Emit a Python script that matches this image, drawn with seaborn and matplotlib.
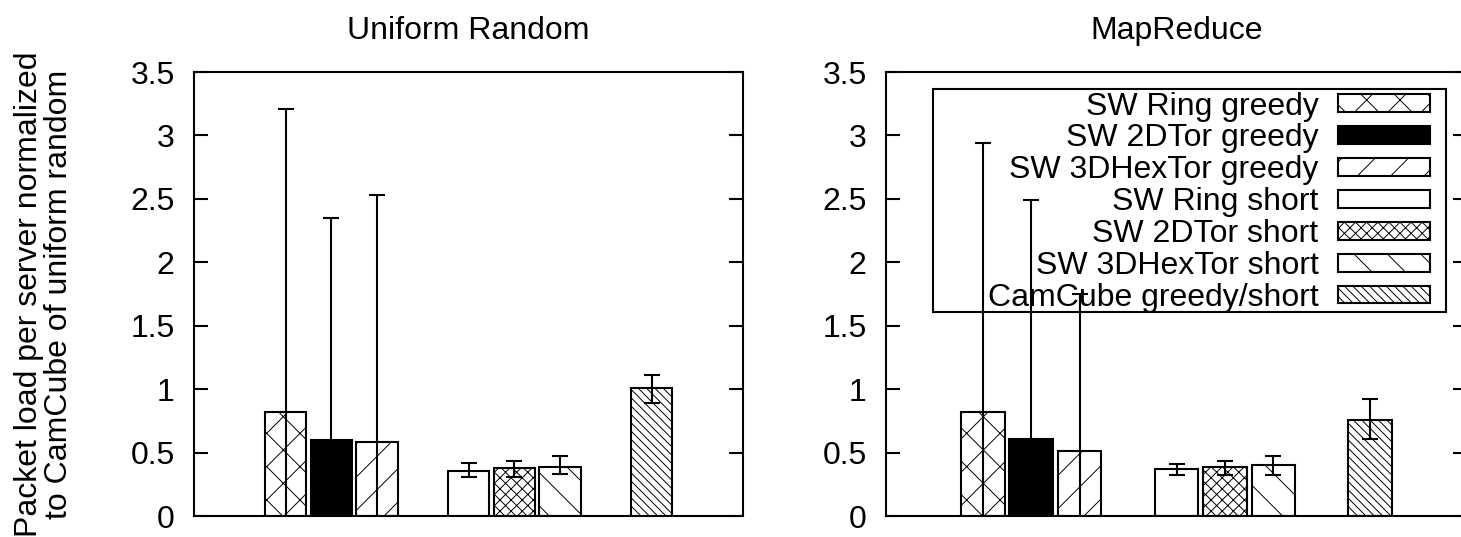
import matplotlib
matplotlib.use('Agg')
import matplotlib.pyplot as plt
import seaborn as sns
import pandas as pd
from matplotlib.container import BarContainer
from matplotlib.patches import Rectangle
from matplotlib.ticker import FuncFormatter

# values
methods = ['SW Ring greedy', 'SW 2DTor greedy', 'SW 3DHexTor greedy',
           'SW Ring short', 'SW 2DTor short', 'SW 3DHexTor short',
           'CamCube greedy/short']
uniform_mean = [0.82, 0.60, 0.58, 0.355, 0.375, 0.39, 1.01]
uniform_hi = [3.21, 2.35, 2.53, 0.415, 0.435, 0.47, 1.11]
uniform_lo = [-1.57, -1.15, -1.37, 0.31, 0.31, 0.33, 0.89]
mapreduce_mean = [0.82, 0.61, 0.51, 0.37, 0.385, 0.405, 0.755]
mapreduce_hi = [2.94, 2.49, 1.75, 0.41, 0.43, 0.47, 0.92]
mapreduce_lo = [-1.30, -1.27, -0.73, 0.32, 0.325, 0.32, 0.61]
titles = ['Uniform Random', 'MapReduce']

# gnuplot-style gaps between the three groups
slots = methods[:3] + [''] + methods[3:6] + [' '] + methods[6:]
face = {m: 'white' for m in methods}
face['SW 2DTor greedy'] = 'black'
hatches = ['x', '', '/', '', 'xxx', '\\', '\\\\\\\\']

sns.set_style('ticks')
plt.rcParams['font.family'] = ['Liberation Sans', 'DejaVu Sans']
plt.rcParams['text.color'] = 'black'
plt.rcParams['ytick.color'] = 'black'
plt.rcParams['hatch.linewidth'] = 0.7
FS = 23

fig = plt.figure(figsize=(14.61, 5.37), dpi=100)
ax1 = fig.add_axes([194 / 1461, 21 / 537, 549 / 1461, 444 / 537])
ax2 = fig.add_axes([886 / 1461, 21 / 537, 581 / 1461, 444 / 537])

panels = [(ax1, uniform_mean, uniform_lo, uniform_hi),
          (ax2, mapreduce_mean, mapreduce_lo, mapreduce_hi)]
bar_sets = {}

for (ax, mean, lo, hi), title in zip(panels, titles):
    df = pd.DataFrame({'method': methods, 'load': mean})
    sns.barplot(data=df, x='method', y='load', hue='method', order=slots,
                hue_order=methods, palette=face, dodge=False, width=0.9,
                edgecolor='black', linewidth=1.5, errorbar=None,
                legend=False, ax=ax)
    bars = [c for c in ax.containers if isinstance(c, BarContainer)]
    bar_sets[ax] = bars
    xs = []
    for cont, h in zip(bars, hatches):
        for bar in cont:
            bar.set_hatch(h)
            xs.append(bar.get_x() + bar.get_width() / 2)
    yerr = [[m - l for m, l in zip(mean, lo)], [u - m for m, u in zip(mean, hi)]]
    ax.errorbar(xs, mean, yerr=yerr, fmt='none', ecolor='black',
                elinewidth=1.5, capsize=5.5, capthick=1.5, zorder=4)

    ax.set_xlim(-2, 10)
    ax.set_ylim(0, 3.5)
    ax.set_yticks([0, 0.5, 1, 1.5, 2, 2.5, 3, 3.5])
    ax.yaxis.set_major_formatter(FuncFormatter(lambda v, p: f'{v:g}'))
    ax.set_xticks([])
    ax.set_xlabel('')
    ax.set_ylabel('')
    ax.tick_params(axis='y', direction='in', length=10, width=1.5,
                   left=True, right=True, labelsize=FS, pad=14,
                   labelcolor='black')
    for s in ax.spines.values():
        s.set_visible(True)
        s.set_linewidth(1.5)
        s.set_color('black')
    ax.set_title(title, fontsize=FS, pad=24, color='black')

fig.text(44 / 1461, 1 - 294 / 537,
         'Packet load per server normalized\nto CamCube of uniform random',
         rotation=90, ha='center', va='center', fontsize=FS,
         multialignment='center', linespacing=1.0)

# legend in gnuplot fashion: labels right aligned, samples on the right
handles = [cont.patches[0] for cont in bar_sets[ax2]]
leg = ax2.legend(handles, methods, loc='upper right',
                 bbox_to_anchor=(0.937, 0.956), markerfirst=False,
                 frameon=False, handlelength=2.9, handleheight=0.47,
                 handletextpad=0.6, labelspacing=0.06, fontsize=FS,
                 borderaxespad=0, borderpad=0)
ax2.add_patch(Rectangle((0.081, 0.459), 0.883, 0.503, transform=ax2.transAxes,
                        fill=False, edgecolor='black', linewidth=1.5,
                        zorder=5, clip_on=False))

fig.savefig('out.png', dpi=100)
